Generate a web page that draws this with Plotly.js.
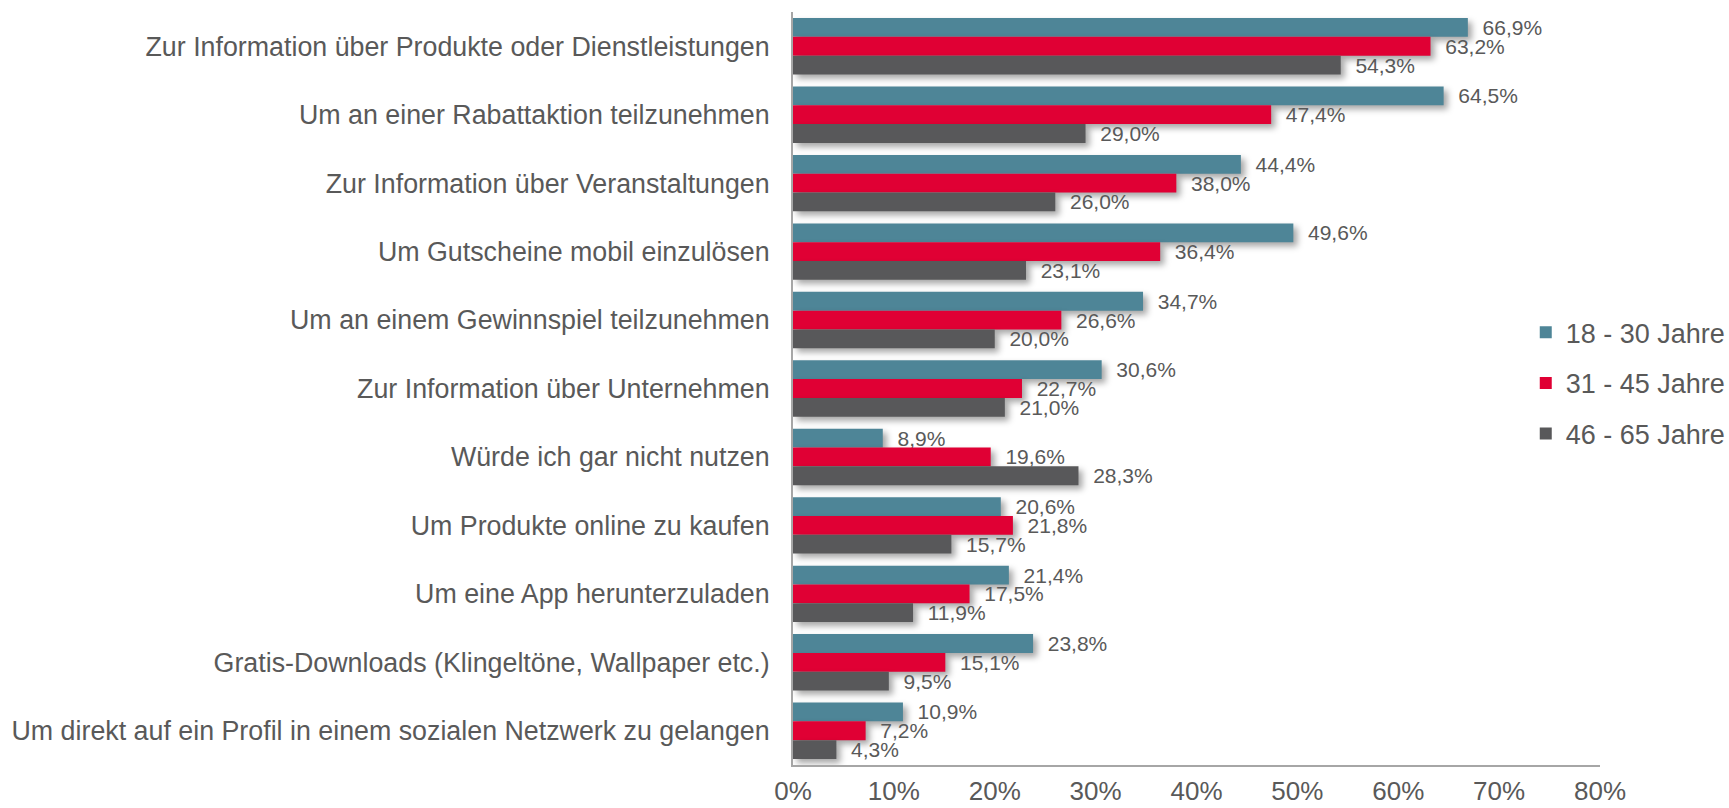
<!DOCTYPE html>
<html>
<head>
<meta charset="utf-8">
<script src="https://cdn.plot.ly/plotly-3.0.1.min.js"></script>
<style>
  html, body { margin: 0; padding: 0; background: #ffffff; }
  #chart { width: 1729px; height: 808px; }
  .trace.bars .point path { filter: drop-shadow(4px 4px 3px rgba(0,0,0,0.35)); }
</style>
</head>
<body>
<div id="chart"></div>
<script>
const categories = [
  "Zur Information über Produkte oder Dienstleistungen",
  "Um an einer Rabattaktion teilzunehmen",
  "Zur Information über Veranstaltungen",
  "Um Gutscheine mobil einzulösen",
  "Um an einem Gewinnspiel teilzunehmen",
  "Zur Information über Unternehmen",
  "Würde ich gar nicht nutzen",
  "Um Produkte online zu kaufen",
  "Um eine App herunterzuladen",
  "Gratis-Downloads (Klingeltöne, Wallpaper etc.)",
  "Um direkt auf ein Profil in einem sozialen Netzwerk zu gelangen"
];
const seriesNames = ["18 - 30 Jahre", "31 - 45 Jahre", "46 - 65 Jahre"];
const age18to30 = [66.9, 64.5, 44.4, 49.6, 34.7, 30.6, 8.9, 20.6, 21.4, 23.8, 10.9];
const age31to45 = [63.2, 47.4, 38.0, 36.4, 26.6, 22.7, 19.6, 21.8, 17.5, 15.1, 7.2];
const age46to65 = [54.3, 29.0, 26.0, 23.1, 20.0, 21.0, 28.3, 15.7, 11.9, 9.5, 4.3];
const tickValues = [0, 10, 20, 30, 40, 50, 60, 70, 80];
const tickLabels = ["0%", "10%", "20%", "30%", "40%", "50%", "60%", "70%", "80%"];

const seriesValues = [age18to30, age31to45, age46to65];
const colors = ["#4E8597", "#E00034", "#58585A"];
const textColor = "#595959";
const fontFamily = "Liberation Sans, Arial, sans-serif";

const traces = seriesValues.map((vals, i) => ({
  type: "bar",
  orientation: "h",
  name: seriesNames[i],
  legendgroup: "g" + i,
  y: categories,
  x: vals,
  marker: { color: colors[i], line: { width: 0 } },
  texttemplate: "\u00a0\u00a0%{x:.1f}%",
  textposition: "outside",
  constraintext: "none",
  cliponaxis: false,
  textfont: { family: fontFamily, size: 21, color: textColor },
  hoverinfo: "skip"
}));

const layout = {
  width: 1729,
  height: 808,
  margin: { l: 793, r: 129, t: 12, b: 43, autoexpand: false },
  paper_bgcolor: "#ffffff",
  plot_bgcolor: "#ffffff",
  separators: ",.",
  barmode: "group",
  bargap: 0.176,
  bargroupgap: 0,
  font: { family: fontFamily, color: textColor },
  showlegend: true,
  legend: {
    x: 0.908, xanchor: "left",
    y: 0.507, yanchor: "middle",
    font: { family: fontFamily, size: 27, color: textColor },
    tracegroupgap: 12.5,
    bgcolor: "rgba(0,0,0,0)",
    borderwidth: 0
  },
  xaxis: {
    range: [0, 80],
    tickvals: tickValues,
    ticktext: tickLabels,
    showgrid: false,
    zeroline: false,
    showline: true,
    linecolor: "#A6A6A6",
    linewidth: 2,
    ticks: "",
    ticklabelstandoff: 2,
    tickfont: { family: fontFamily, size: 26, color: textColor },
    fixedrange: true
  },
  yaxis: {
    autorange: "reversed",
    type: "category",
    showgrid: false,
    zeroline: false,
    showline: true,
    linecolor: "#A6A6A6",
    linewidth: 2,
    ticks: "",
    ticklabelstandoff: 16,
    tickfont: { family: fontFamily, size: 26.8, color: textColor },
    fixedrange: true
  }
};

Plotly.newPlot("chart", traces, layout, { displayModeBar: false, staticPlot: true });
</script>
</body>
</html>
